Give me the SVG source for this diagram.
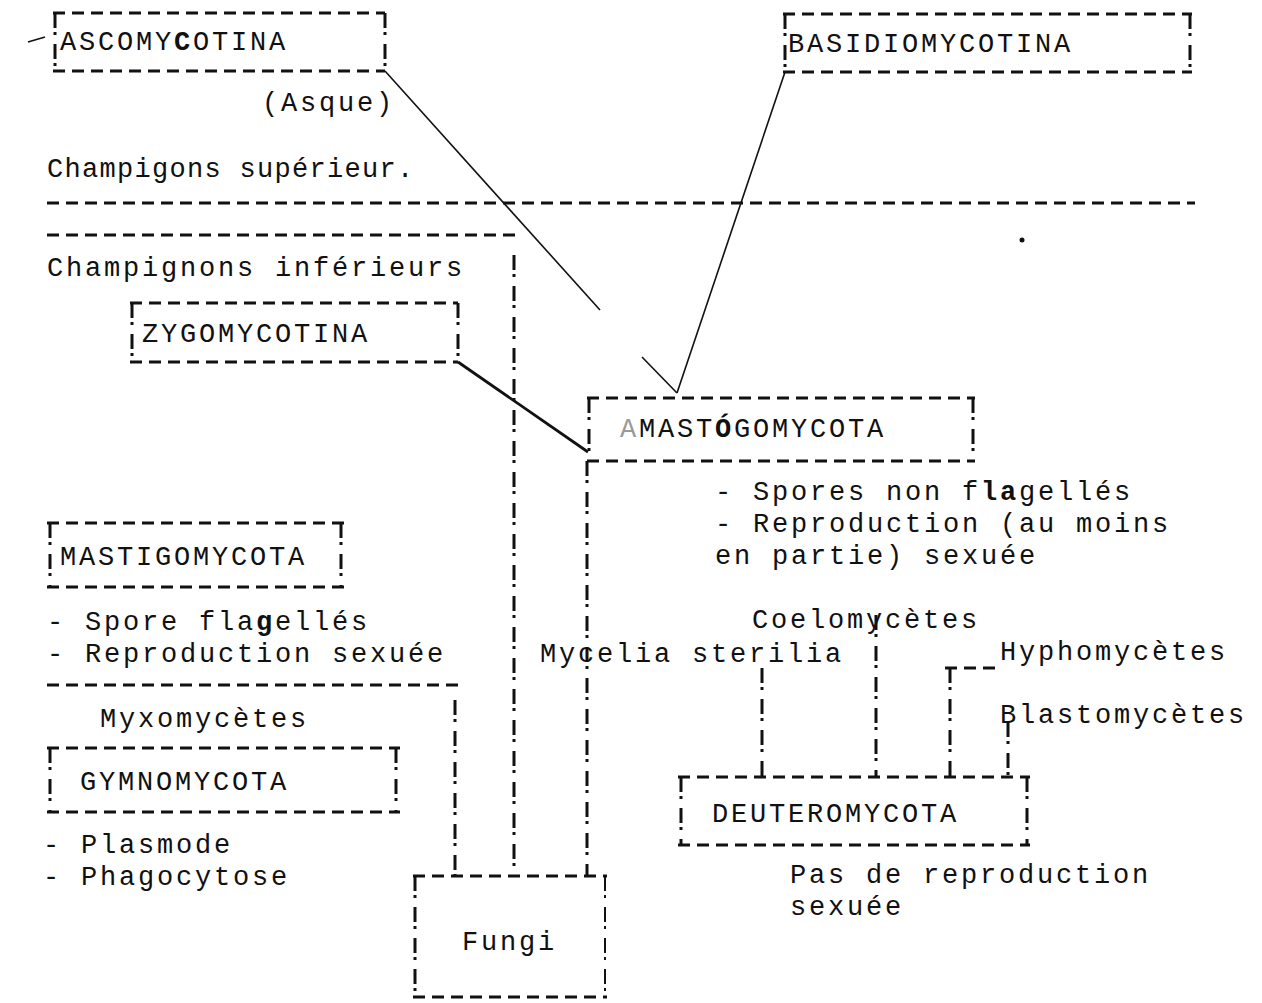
<svg xmlns="http://www.w3.org/2000/svg" width="1262" height="1003" viewBox="0 0 1262 1003">
<style>
.t{font-family:"Liberation Mono","DejaVu Sans Mono",monospace;font-size:27px;letter-spacing:2.8px;fill:#111}
.h{stroke:#111;stroke-width:3;stroke-dasharray:12 7;fill:none}
.v{stroke:#111;stroke-width:3;stroke-dasharray:15 4 3 9;fill:none}
.s{stroke:#111;stroke-width:1.6;fill:none}
.sb{stroke:#111;stroke-width:2.8;fill:none}
</style>
<rect width="1262" height="1003" fill="#fff"/>

<g id="connectors">
  <path class="s" d="M385,71 L600,310"/>
  <path class="s" d="M642,357 L677,393"/>
  <path class="s" d="M785,72 L677,393"/>
  <path class="sb" d="M458,362 L588,452"/>
  <path class="h" d="M47,203 H1195"/>
  <path class="h" d="M47,235 H522"/>
  <path class="v" d="M514,255 V876"/>
  <path class="h" d="M47,685 H460"/>
  <path class="v" d="M455,700 V876"/>
  <path class="v" d="M587,461 V876"/>
  <path class="v" d="M762,668 V777"/>
  <path class="v" d="M876,615 V777"/>
  <path class="h" d="M945,668 H1000"/>
  <path class="v" d="M950,668 V777"/>
  <path class="v" d="M1008,722 V777"/>
  <path class="s" d="M28,42 L45,37"/>
  <circle cx="1022" cy="240" r="2.5" fill="#111"/>
</g>

<g id="ascomycotina">
  <path class="h" d="M53,13 H385 M53,71 H385"/>
  <path class="v" d="M55,13 V71 M385,13 V71"/>
  <text class="t" x="60" y="50">ASCOMY<tspan font-weight="bold">C</tspan>OTINA</text>
</g>
<text class="t" x="262" y="111">(Asque)</text>

<g id="basidiomycotina">
  <path class="h" d="M783,14 H1192 M783,72 H1192"/>
  <path class="v" d="M785,14 V72 M1190,14 V72"/>
  <text class="t" x="788" y="52">BASIDIOMYCOTINA</text>
</g>

<text class="t" x="47" y="177" style="letter-spacing:1.3px">Champigons supérieur.</text>
<text class="t" x="47" y="276">Champignons inférieurs</text>

<g id="zygomycotina">
  <path class="h" d="M130,303 H458 M130,362 H458"/>
  <path class="v" d="M132,303 V362 M458,303 V362"/>
  <text class="t" x="142" y="342">ZYGOMYCOTINA</text>
</g>

<g id="amastigomycota">
  <path class="h" d="M587,398 H975 M587,461 H975"/>
  <path class="v" d="M589,398 V461 M973,398 V461"/>
  <text class="t" x="620" y="437"><tspan fill="#999">A</tspan>MAST<tspan font-weight="bold">Ó</tspan>GOMYCOTA</text>
  <text class="t" x="715" y="500">- Spores non f<tspan font-weight="bold">la</tspan>gellés</text>
  <text class="t" x="715" y="532">- Reproduction (au moins</text>
  <text class="t" x="715" y="564">en partie) sexuée</text>
</g>

<g id="mastigomycota">
  <path class="h" d="M47,523 H345 M47,587 H345"/>
  <path class="v" d="M50,523 V587 M341,523 V587"/>
  <text class="t" x="60" y="565">MASTIGOMYCOTA</text>
  <text class="t" x="47" y="630">- Spore fla<tspan font-weight="bold">g</tspan>ellés</text>
  <text class="t" x="47" y="662">- Reproduction sexuée</text>
</g>

<text class="t" x="100" y="727">Myxomycètes</text>

<g id="gymnomycota">
  <path class="h" d="M47,748 H400 M47,812 H400"/>
  <path class="v" d="M50,748 V812 M396,748 V812"/>
  <text class="t" x="80" y="790">GYMNOMYCOTA</text>
  <text class="t" x="43" y="853">- Plasmode</text>
  <text class="t" x="43" y="885">- Phagocytose</text>
</g>

<g id="fungi">
  <path class="h" d="M413,876 H607 M413,997 H607"/>
  <path class="v" d="M415,876 V997"/>
  <path class="v" d="M605,876 V997" style="stroke-width:2"/>
  <text class="t" x="462" y="950">Fungi</text>
</g>

<text class="t" x="540" y="662">Mycelia sterilia</text>
<text class="t" x="752" y="628">Coelomycètes</text>
<text class="t" x="1000" y="660">Hyphomycètes</text>
<text class="t" x="1000" y="723">Blastomycètes</text>

<g id="deuteromycota">
  <path class="h" d="M678,777 H1030 M678,845 H1030"/>
  <path class="v" d="M681,777 V845 M1027,777 V845"/>
  <text class="t" x="712" y="822">DEUTEROMYCOTA</text>
  <text class="t" x="790" y="883">Pas de reproduction</text>
  <text class="t" x="790" y="915">sexuée</text>
</g>
</svg>
